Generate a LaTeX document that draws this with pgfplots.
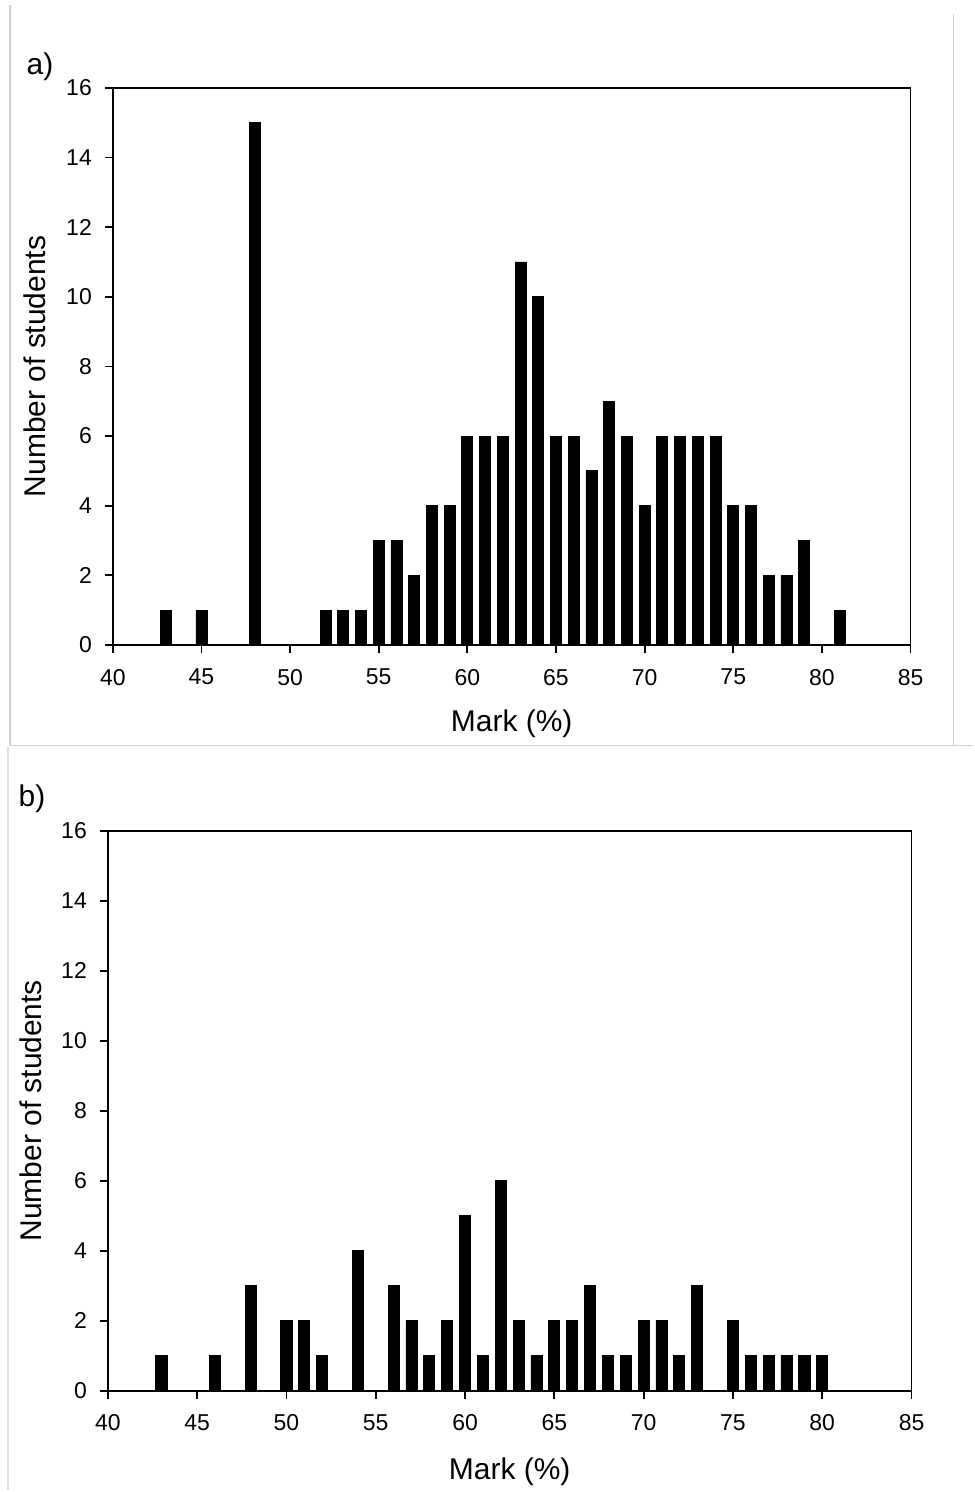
\documentclass[border=0pt]{standalone}
\usepackage{fontspec}
\setmainfont{Liberation Sans}
\usepackage{pgfplots}
\pgfplotsset{compat=1.18}

\pgfplotstableread{
mark n
43 1
45 1
48 15
52 1
53 1
54 1
55 3
56 3
57 2
58 4
59 4
60 6
61 6
62 6
63 11
64 10
65 6
66 6
67 5
68 7
69 6
70 4
71 6
72 6
73 6
74 6
75 4
76 4
77 2
78 2
79 3
81 1
}\marksA

\pgfplotstableread{
mark n
43 1
46 1
48 3
50 2
51 2
52 1
54 4
56 3
57 2
58 1
59 2
60 5
61 1
62 6
63 2
64 1
65 2
66 2
67 3
68 1
69 1
70 2
71 2
72 1
73 3
75 2
76 1
77 1
78 1
79 1
80 1
}\marksB

\pgfplotsset{
  hist/.style={
    scale only axis,
    xmin=40, xmax=85, ymin=0, ymax=16,
    xtick={40,45,...,85}, ytick={0,2,...,16},
    tick align=outside, tick pos=left,
    major tick length=4pt,
    axis line style={line width=0.9pt},
    every tick/.style={line width=0.9pt, black},
    /pgf/number format/assume math mode=true,
    tick label style={font=\fontsize{11.5}{13}\selectfont},
    xticklabel style={yshift=-4.5pt},
    yticklabel style={xshift=-3pt},
    label style={font=\fontsize{15}{18}\selectfont},
    ylabel={Number of students},
    xlabel={Mark (\%)},
  }
}

\begin{document}
\begin{tikzpicture}
\path (0,0) rectangle (487.5pt,-746pt);
\draw[gray!35, line width=0.6pt] (5pt,-2.5pt) -- (5pt,-373.5pt) -- (487.5pt,-373.5pt);
\draw[gray!35, line width=0.6pt] (477.5pt,-7pt) -- (477.5pt,-373.5pt);
\draw[gray!25, line width=0.6pt] (4pt,-374pt) -- (4pt,-746pt);

\begin{axis}[hist,
  at={(56.5pt,-323pt)}, anchor=south west,
  width=399.5pt, height=279pt,
  xlabel style={at={(axis description cs:0.5,-0.1416)}, anchor=center},
  ylabel style={at={(axis description cs:-0.0976,0.5)}, anchor=center},
]
\addplot[ybar, bar width=0.62, bar shift=0pt, fill=black, draw=black]
  table[x=mark, y=n] {\marksA};
\end{axis}
\node[font=\fontsize{15}{17}\selectfont] at (20pt,-33.5pt) {a)};

\begin{axis}[hist,
  at={(54pt,-696.5pt)}, anchor=south west,
  width=402.5pt, height=280.5pt,
  xlabel style={at={(axis description cs:0.5,-0.144)}, anchor=center},
  ylabel style={at={(axis description cs:-0.0957,0.5)}, anchor=center},
]
\addplot[ybar, bar width=0.62, bar shift=0pt, fill=black, draw=black]
  table[x=mark, y=n] {\marksB};
\end{axis}
\node[font=\fontsize{15}{17}\selectfont] at (16pt,-400pt) {b)};
\end{tikzpicture}
\end{document}
